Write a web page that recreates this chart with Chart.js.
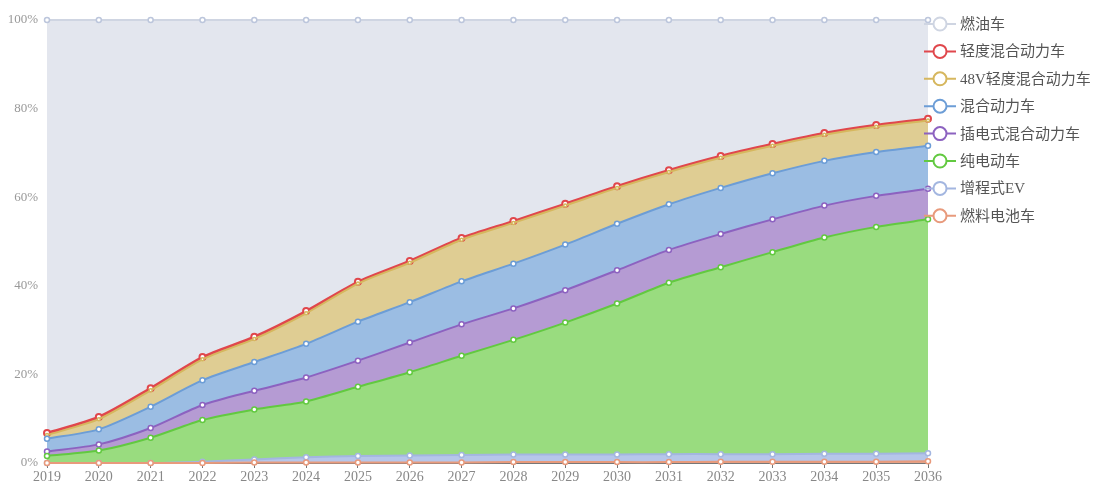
<!DOCTYPE html>
<html><head><meta charset="utf-8">
<script src="https://cdn.jsdelivr.net/npm/chart.js@4/dist/chart.umd.min.js"></script>
<style>html,body{margin:0;padding:0;background:#fff;}canvas{display:block;}</style>
</head><body>
<canvas id="c" width="1094" height="485"></canvas>
<script>
const years = ['2019','2020','2021','2022','2023','2024','2025','2026','2027','2028','2029','2030','2031','2032','2033','2034','2035','2036'];
const yTicks = [0, 20, 40, 60, 80, 100];

// share of each type (%), stacked bottom -> top
const fuelCell   = [0,0,0,0,0.1,0.1,0.1,0.1,0.1,0.2,0.2,0.2,0.2,0.3,0.3,0.3,0.3,0.4];
const rangeExt   = [0,0,0,0.3,0.7,1.2,1.5,1.6,1.7,1.7,1.7,1.7,1.8,1.7,1.7,1.8,1.8,1.8];
const pureEV     = [1.6,2.8,5.7,9.4,11.3,12.6,15.6,18.8,22.4,25.9,29.8,34.1,38.7,42.2,45.6,48.8,51.2,52.8];
const plugIn     = [1.0,1.4,2.2,3.4,4.2,5.4,5.9,6.7,7.1,7.1,7.3,7.5,7.4,7.5,7.4,7.2,7.0,6.9];
const hybrid     = [2.9,3.4,4.8,5.6,6.5,7.6,8.8,9.1,9.7,10.1,10.3,10.5,10.3,10.4,10.4,10.1,9.9,9.7];
const mild48V    = [0.8,2.3,3.7,4.7,5.2,6.9,8.6,8.9,9.4,9.2,8.8,8.1,7.3,6.8,6.2,5.9,5.7,5.7];
const mildHybrid = [0.5,0.5,0.5,0.5,0.5,0.5,0.4,0.4,0.4,0.4,0.4,0.4,0.4,0.4,0.4,0.4,0.4,0.4];
const fuelCar    = [93.2,89.6,83.1,76.1,71.5,65.7,59.1,54.4,49.2,45.4,41.5,37.5,33.9,30.7,28.0,25.5,23.7,22.3];

const names = ['燃料电池车','增程式EV','纯电动车','插电式混合动力车','混合动力车','48V轻度混合动力车','轻度混合动力车','燃油车'];
const series = [fuelCell, rangeExt, pureEV, plugIn, hybrid, mild48V, mildHybrid, fuelCar];
const lineColors = ['#e89a7c','#a3b6e0','#62c940','#8c62c0','#6c9dd6','#d6b75e','#e0474c','#cfd5e2'];
const pointColors = ['#e89a7c','#a3b6e0','#62c940','#8c62c0','#6c9dd6','#d6b75e','#e0474c','#bcc6dc'];
const fillColors = ['#e3a78f','#b6c6ea','#99dc7f','#b59bd3','#9bbde3','#dfcd93','#e36a62','#e3e6ee'];

const FONT = "'Liberation Serif', 'Noto Sans CJK SC', serif";

const datasets = series.map((d, i) => ({
  label: names[i],
  data: d,
  borderColor: lineColors[i],
  backgroundColor: fillColors[i],
  fill: i === 0 ? 'origin' : '-1',
  borderWidth: i === 6 ? 2.5 : 2,
  pointRadius: i === 6 ? 3 : (i === 5 ? 1.5 : 2.5),
  pointBorderWidth: i === 6 ? 2 : 1.5,
  pointBackgroundColor: '#ffffff',
  pointBorderColor: pointColors[i],
  tension: 0.25,
  clip: false
}));

const sideLegend = {
  id: 'sideLegend',
  afterDraw(chart) {
    const ctx = chart.ctx;
    const area = chart.chartArea;
    const ds = chart.data.datasets.slice().reverse();
    ctx.save();
    ctx.font = '15px ' + FONT;
    ctx.textBaseline = 'middle';
    ds.forEach((d, i) => {
      const cx = area.right + 12;
      const cy = area.top + 4 + i * 27.4;
      ctx.strokeStyle = d.borderColor;
      ctx.lineWidth = 2;
      ctx.beginPath();
      ctx.moveTo(cx - 16, cy); ctx.lineTo(cx - 7, cy);
      ctx.moveTo(cx + 7, cy); ctx.lineTo(cx + 16, cy);
      ctx.stroke();
      ctx.beginPath();
      ctx.arc(cx, cy, 6.5, 0, Math.PI * 2);
      ctx.fillStyle = '#fff';
      ctx.fill();
      ctx.stroke();
      ctx.fillStyle = '#555';
      ctx.fillText(d.label, cx + 20, cy + 1);
    });
    ctx.restore();
  }
};

new Chart(document.getElementById('c'), {
  type: 'line',
  data: { labels: years, datasets },
  options: {
    responsive: false,
    animation: false,
    layout: { padding: { top: 20, right: 166, left: 0, bottom: 0 } },
    plugins: {
      legend: { display: false },
      tooltip: { enabled: false },
      filler: { drawTime: 'beforeDatasetsDraw' }
    },
    scales: {
      x: {
        offset: false,
        grid: { display: true, drawOnChartArea: false, drawTicks: true, tickLength: 5, color: '#777' },
        border: { display: true, color: '#777', width: 1 },
        ticks: { color: '#888', font: { family: FONT, size: 14 }, padding: 1, maxRotation: 0, autoSkip: false },
        afterFit(s) { s.height = 22; }
      },
      y: {
        stacked: true,
        min: 0, max: 100,
        z: 1,
        afterBuildTicks(s) { s.ticks = yTicks.map(v => ({ value: v })); },
        grid: { color: 'rgba(0,0,0,0.035)', drawTicks: false },
        border: { display: false },
        ticks: { color: '#999', font: { family: FONT, size: 13 }, padding: 9, callback: v => v + '%' },
        afterFit(s) { s.width = 47; }
      }
    }
  },
  plugins: [sideLegend]
});
</script>
</body></html>
